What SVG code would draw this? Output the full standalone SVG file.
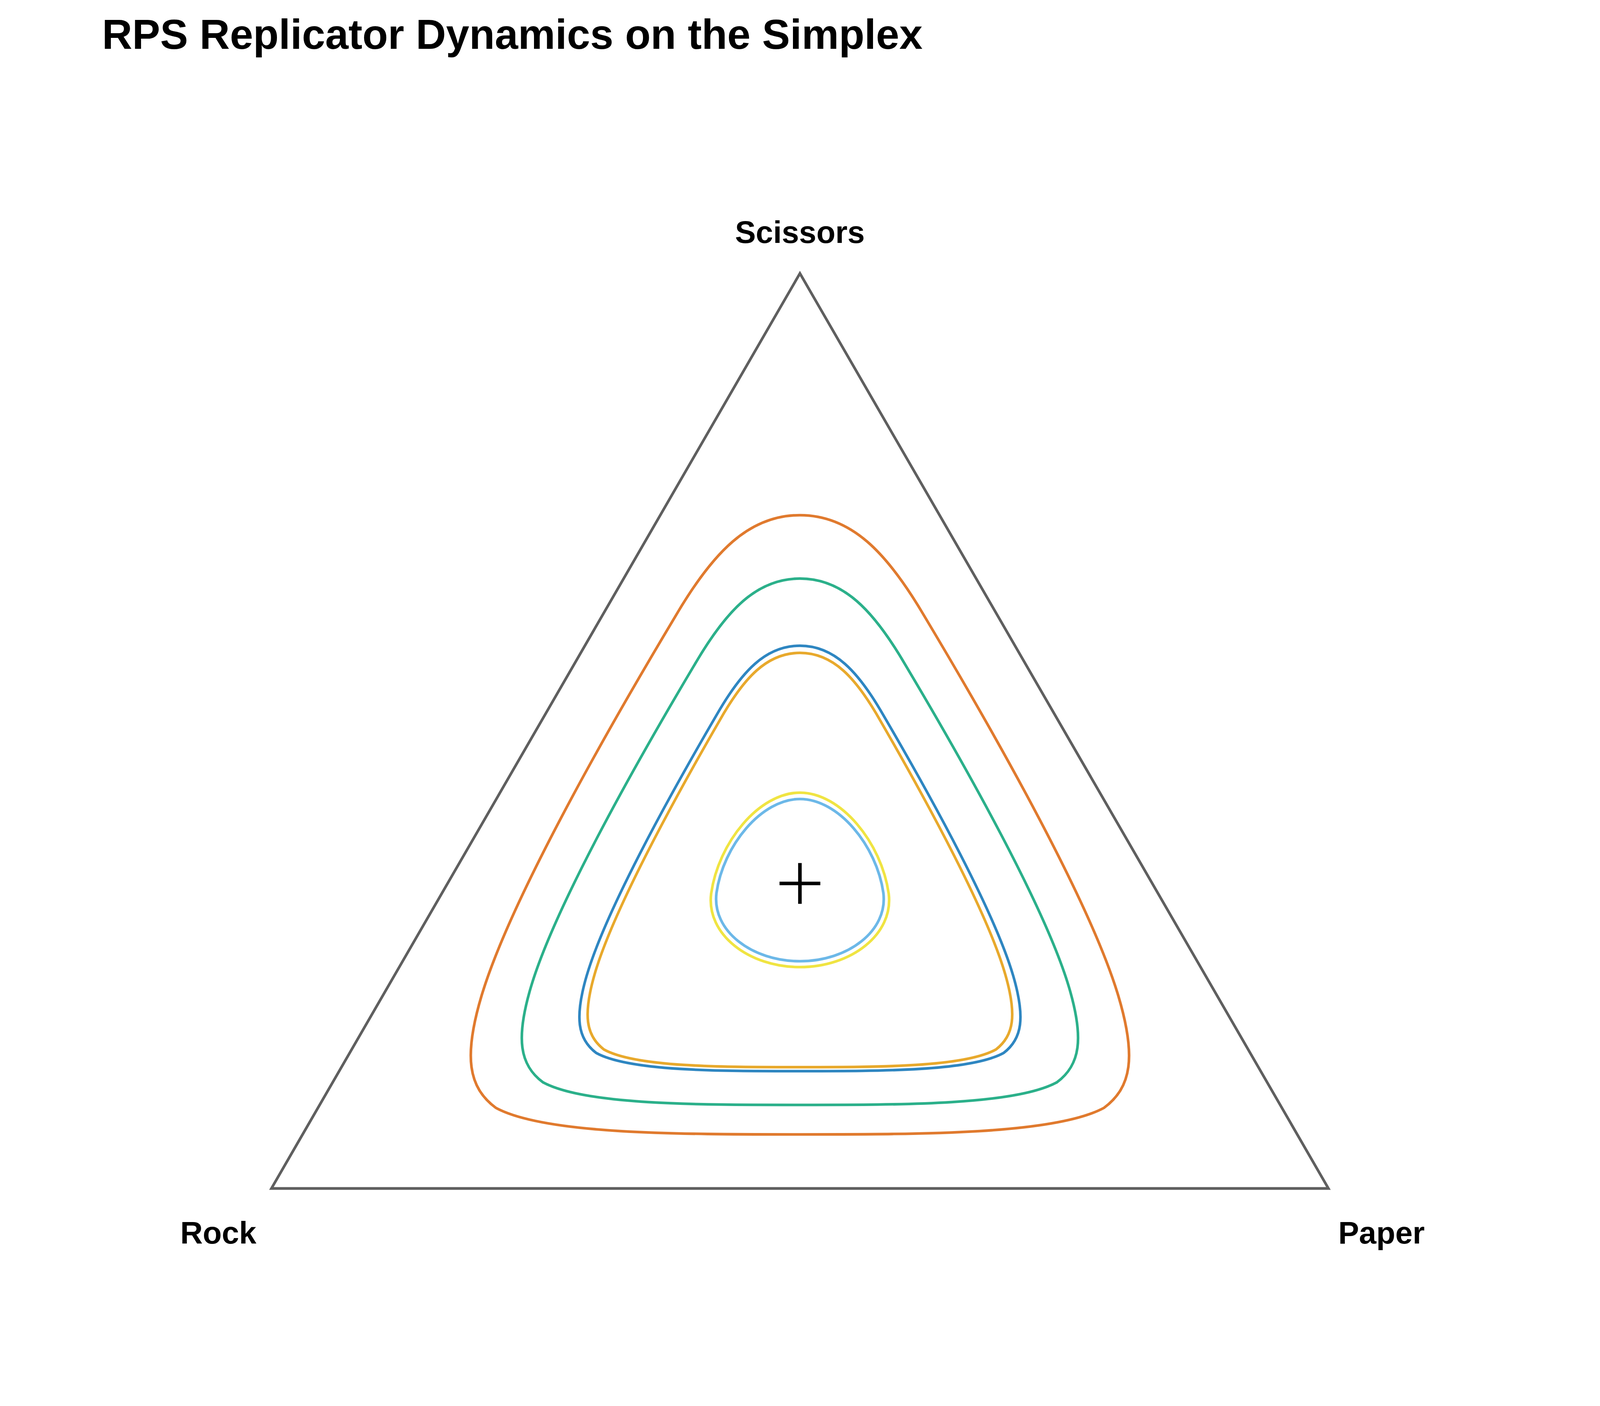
<svg xmlns="http://www.w3.org/2000/svg" width="4200" height="3600" viewBox="0 0 4200 3600">
<style>
.lbl{font-family:"Liberation Sans",Arial,sans-serif;font-weight:bold;fill:#000}
.orb{fill:none;stroke-width:2.6}
</style>
<defs>
<path id="big" d="M0,-361 C50,-361 85,-325 122,-262 C195,-140 285,20 312,110 C330,170 325,200 298,220 C250,246 120,246 0,246 C-120,246 -250,246 -298,220 C-325,200 -330,170 -312,110 C-285,20 -195,-140 -122,-262 C-85,-325 -50,-361 0,-361 Z"/>
<path id="egg" d="M0,-89 C40,-89 80,-40 87,10 C92,50 50,82 0,82 C-50,82 -92,50 -87,10 C-80,-40 -40,-89 0,-89 Z"/>
</defs>
<rect width="4200" height="3600" fill="#fff"/>
<g transform="scale(2.612)">
<text class="lbl" x="100" y="48" font-size="41">RPS Replicator Dynamics on the Simplex</text>
<g id="simplex"><path d="M784,268 L1302,1165 L266,1165 Z" fill="none" stroke="#5f5f5f" stroke-width="2.6"/></g>
<g id="labels">
<text class="lbl" x="784" y="238" font-size="30.5" text-anchor="middle">Scissors</text>
<text class="lbl" x="214" y="1219" font-size="30.5" text-anchor="middle">Rock</text>
<text class="lbl" x="1354" y="1219" font-size="30.5" text-anchor="middle">Paper</text>
</g>
<g id="orbits">
<use href="#big" class="orb" stroke="#E07A2E" transform="translate(784,866)"/>
<use href="#big" class="orb" stroke="#2BB08A" transform="translate(784,874) scale(0.845,0.85)" style="stroke-width:3.05"/>
<use href="#big" class="orb" stroke="#2E86C1" transform="translate(784,881) scale(0.67,0.687)" style="stroke-width:3.8"/>
<use href="#big" class="orb" stroke="#E8A92C" transform="translate(784,881.5) scale(0.645,0.669)" style="stroke-width:3.95"/>
<use href="#egg" class="orb" stroke="#F0E442" transform="translate(784,866)"/>
<use href="#egg" class="orb" stroke="#6CB8E8" transform="translate(784,866) scale(0.94,0.93)" style="stroke-width:2.8"/>
</g>
<g id="center"><path d="M764,866 H804 M784,846 V886" stroke="#000" stroke-width="3.5"/></g>
</g>
</svg>
